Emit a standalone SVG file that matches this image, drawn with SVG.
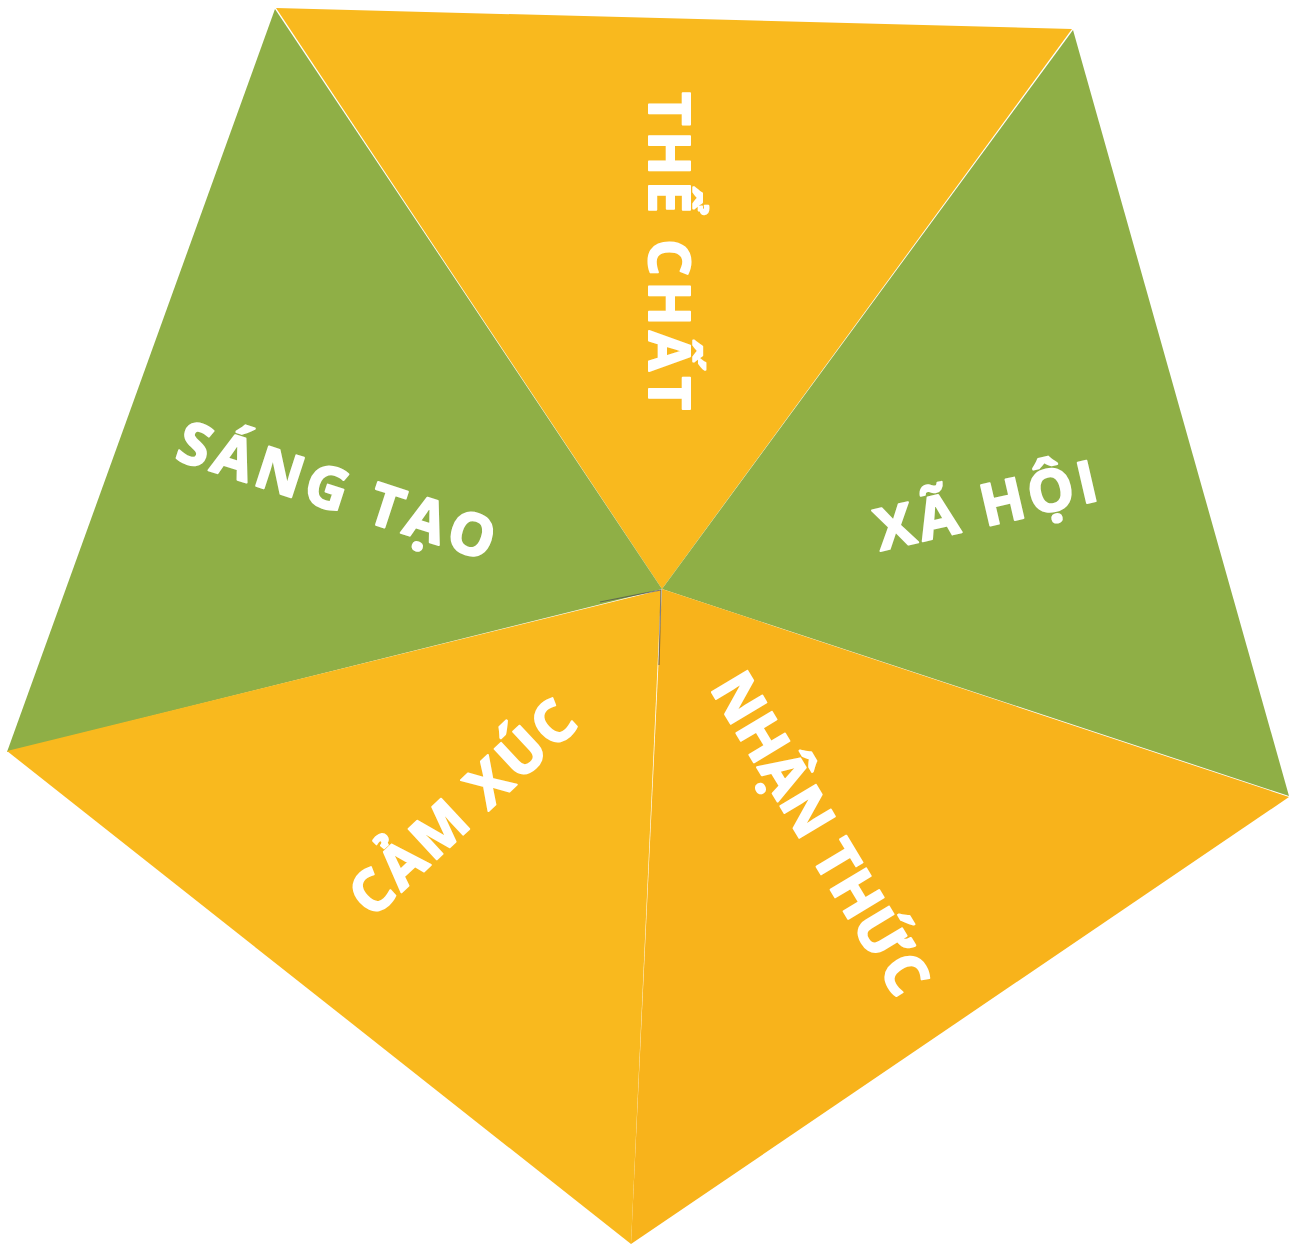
<svg xmlns="http://www.w3.org/2000/svg" width="1295" height="1245" viewBox="0 0 1295 1245">
<style>
.y{fill:#F9B91E}
.yb{fill:#F8B31B}
.g{fill:#8FAF46}
.t{font-family:"Open Sans","Liberation Sans",sans-serif;font-weight:700;font-size:58px;fill:#fff;stroke:#fff;stroke-width:2;stroke-linejoin:round;text-anchor:middle}
.seam{stroke:#4a4a55;stroke-width:1.2;fill:none;opacity:0.7}
</style>
<rect width="1295" height="1245" fill="#fff"/>
<g id="the-chat">
<polygon class="y" points="276,8 1072,29 662,589"/>
<text class="t" transform="translate(670,251) rotate(90)" x="0" y="21" textLength="318" lengthAdjust="spacing">THỂ CHẤT</text>
</g>
<g id="sang-tao">
<polygon class="g" points="275,9 662,589 7,752"/>
<text class="t" transform="translate(337,490) rotate(18)" x="0" y="21" textLength="330" lengthAdjust="spacing">SÁNG TẠO</text>
</g>
<g id="xa-hoi">
<polygon class="g" points="1073,30 1289,796 662,589"/>
<text class="t" transform="translate(986,505) rotate(-13)" x="0" y="21" textLength="226" lengthAdjust="spacing">XÃ HỘI</text>
</g>
<g id="cam-xuc">
<polygon class="y" points="7,751 661,590 631,1244"/>
<text class="t" transform="translate(462,807) rotate(-43)" x="0" y="21" textLength="285" lengthAdjust="spacing">CẢM XÚC</text>
</g>
<g id="nhan-thuc">
<polygon class="yb" points="662,589 1289,797 631,1244"/>
<text class="t" transform="translate(821,833) rotate(59)" x="0" y="21" textLength="364" lengthAdjust="spacing">NHẬN THỨC</text>
</g>
<g id="connectors">
<path class="seam" d="M600,602 L661,590 L659,665"/>
</g>
</svg>
